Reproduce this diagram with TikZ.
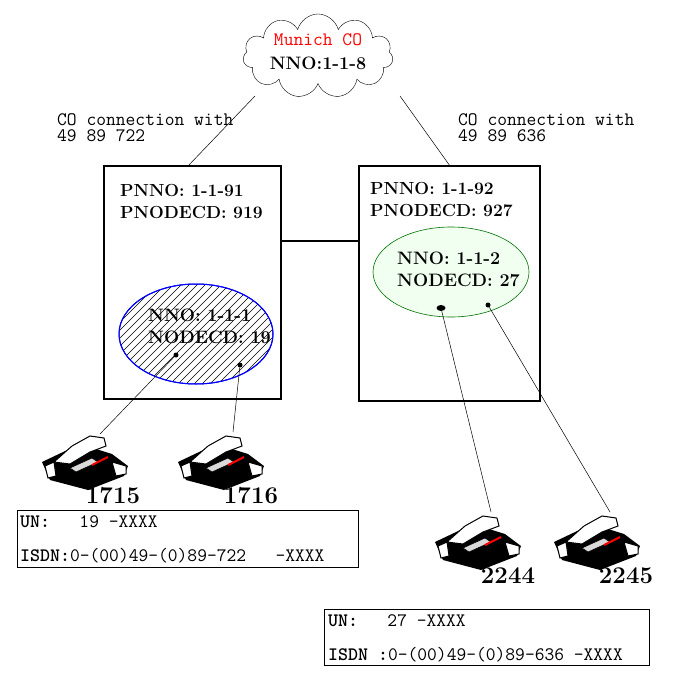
\documentclass[tikz,border=0pt]{standalone}
\usetikzlibrary{shapes.symbols,shapes.geometric}
\begin{document}
\begin{tikzpicture}[x=1pt,y=-1pt,
 bx/.style={draw,line width=2.2pt},
 tt/.style={font=\ttfamily\fontsize{19}{20}\selectfont,anchor=west,inner sep=0pt},
 tt2/.style={font=\ttfamily\fontsize{19}{16}\selectfont,anchor=north west,inner sep=0pt,align=left},
 sm/.style={font=\bfseries\fontsize{17.5}{18}\selectfont,anchor=west,inner sep=0pt},
 bg/.style={font=\bfseries\fontsize{18}{19}\selectfont,anchor=west,inner sep=0pt},
 num/.style={font=\bfseries\fontsize{24}{24}\selectfont,inner sep=0pt},
 ln/.style={draw,line width=0.5pt},
 dot/.style={circle,fill,inner sep=0pt,minimum size=5pt},
 phone/.pic={
  \fill[black] (2,30)--(40,12)--(72,22)--(88,34)--(84,44)--(48,58)--(10,48)--cycle;
  \draw[fill=white,line width=1pt] (5,34)--(14,30)--(16,44)--(8,46)--cycle;
  \draw[fill=white,line width=1pt] (72,30)--(86,34)--(86,42)--(76,44)--cycle;
  \draw[fill=white,line width=1pt] (14,30)--(32,14)--(50,4)--(64,6)--(66,14)--(50,20)--(30,32)--cycle;
  \draw[fill=white!85!black,line width=0.6pt] (30,36)--(52,26)--(58,30)--(36,40)--cycle;
  \draw[red,line width=2pt] (52,33)--(68,25);
 }]
\useasboundingbox (0,0) rectangle (676,685);
\node[cloud,draw,cloud puffs=11,aspect=1.9,minimum width=150pt,minimum height=84pt,fill=white] (cloud) at (318,56) {};
\node[font=\ttfamily\fontsize{19}{20}\selectfont,text=red] (munich) at (318,40) {Munich CO};
\node[font=\bfseries\fontsize{18}{19}\selectfont] (nno8) at (318,63) {NNO:1-1-8};
\node[tt2] (colL) at (57,113) {CO connection with\\49 89 722};
\node[tt2] (colR) at (458,113) {CO connection with\\49 89 636};
\node[bx,minimum width=177pt,minimum height=233pt,inner sep=0pt] (boxL) at (192.5,282.5) {};
\node[bx,minimum width=181pt,minimum height=235pt,inner sep=0pt] (boxR) at (449.5,283.5) {};
\coordinate (cl1) at (255,96); \coordinate (cl2) at (400,96);
\coordinate (bl) at (188,166); \coordinate (br) at (450,166);
\draw[ln] (cl1)--(bl); \draw[ln] (cl2)--(br);
\draw[line width=2.2pt] (boxL.east |- 0,241)--(boxR.west |- 0,241);
\node[sm] (pl1) at (120,190) {PNNO: 1-1-91};
\node[sm] (pl2) at (120,212) {PNODECD: 919};
\node[sm] (pr1) at (370,188) {PNNO: 1-1-92};
\node[sm] (pr2) at (370,210) {PNODECD: 927};
\node[ellipse,draw=blue,line width=1pt,minimum width=154pt,minimum height=100pt] (eL) at (196,334) {};
\begin{scope}
\clip (196,334) ellipse [x radius=77pt,y radius=50pt];
\foreach \i in {-160,-152,...,160} \draw[line width=0.5pt] (196+\i-60,394)--(196+\i+60,274);
\end{scope}
\draw[blue,line width=1pt] (eL.center) ellipse [x radius=77pt,y radius=50pt];
\node[ellipse,draw=green!45!black,line width=0.6pt,fill=green!6,minimum width=156pt,minimum height=90pt] (eR) at (451,272) {};
\node[bg] (nl1) at (148,315) {NNO: 1-1-1};
\node[bg] (nl2) at (148,337) {NODECD: 19};
\node[bg] (nr1) at (397,258) {NNO: 1-1-2};
\node[bg] (nr2) at (397,280) {NODECD: 27};
\node[dot] (d1) at (176,355) {};
\node[dot] (d2) at (240,365) {};
\node[ellipse,fill,inner sep=0pt,minimum width=9pt,minimum height=6pt] (d3) at (441,308) {};
\node[dot] (d4) at (488,305) {};
\coordinate (p1) at (100,434); \coordinate (p2) at (233,432);
\coordinate (p3) at (491,512); \coordinate (p4) at (610,512);
\draw[ln] (d1)--(p1); \draw[ln] (d2)--(p2); \draw[ln] (d3)--(p3); \draw[ln] (d4)--(p4);
\pic at (40,432) {phone}; \pic at (176,432) {phone};
\pic at (433,512) {phone}; \pic at (552,512) {phone};
\node[num] (n1) at (113,496) {1715};
\node[num] (n2) at (251,496) {1716};
\node[num] (n3) at (508,576) {2244};
\node[num] (n4) at (626,576) {2245};
\node[draw,fill=white,minimum width=341pt,minimum height=57pt,inner sep=0pt] (iL) at (187.5,538.5) {};
\node[draw,fill=white,minimum width=325pt,minimum height=56pt,inner sep=0pt] (iR) at (486.5,637) {};
\node[tt] (uL) at (20,522) {\textbf{UN:}\ \ \ 19 -XXXX};
\node[tt] (sL) at (20,556) {\textbf{ISDN:}0-(00)49-(0)89-722\ \ \ -XXXX};
\node[tt] (uR) at (328,621) {\textbf{UN:}\ \ \ 27 -XXXX};
\node[tt] (sR) at (328,655) {\textbf{ISDN :}0-(00)49-(0)89-636 -XXXX};
\end{tikzpicture}
\end{document}
